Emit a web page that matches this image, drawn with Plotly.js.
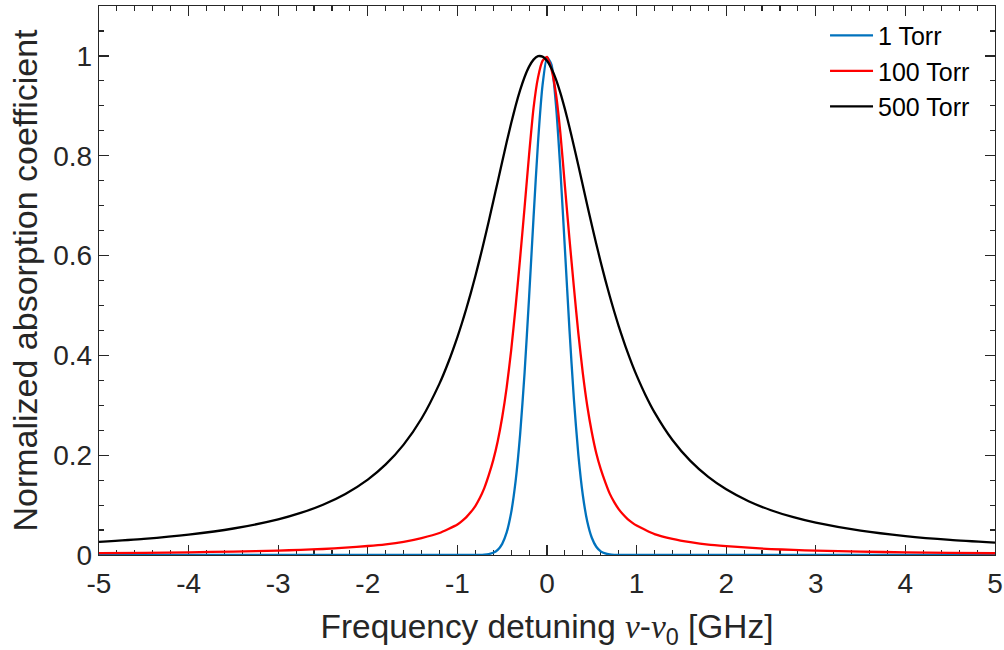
<!DOCTYPE html>
<html>
<head>
<meta charset="utf-8">
<script src="https://cdn.plot.ly/plotly-3.0.1.min.js"></script>
<style>html,body{margin:0;padding:0;background:#fff;}#chart{width:1004px;height:650px;}</style>
</head>
<body>
<div id="chart"></div>
<script>
var detuning = [-5,-4.5,-4,-3.5,-3,-2.75,-2.5,-2.25,-2,-1.8,-1.6,-1.4,-1.2,-1.1,
  -1,-0.95,-0.9,-0.85,-0.8,-0.75,-0.7,-0.65,-0.6,-0.55,-0.5,-0.45,-0.4,-0.35,-0.3,-0.25,-0.2,-0.15,-0.1,-0.05,
  0,0.05,0.1,0.15,0.2,0.25,0.3,0.35,0.4,0.45,0.5,0.55,0.6,0.65,0.7,0.75,0.8,0.85,0.9,0.95,1,
  1.1,1.2,1.4,1.6,1.8,2,2.25,2.5,2.75,3,3.5,4,4.5,5];

var torr1 = [0,0,0,0,0,0,0,0,0,0,0,0,0,0,
  0,0,0,0,0.0001,0.0002,0.0007,0.0018,0.0044,0.0103,0.0224,0.0452,0.0849,0.1484,0.2415,0.3657,0.516,0.677,0.8275,0.941,
  0.9968,0.9826,0.9017,0.770,0.6126,0.4535,0.3125,0.2005,0.1197,0.0665,0.0345,0.0166,0.0074,0.0031,0.0012,0.0004,0.0001,0,0,0,0,
  0,0,0,0,0,0,0,0,0,0,0,0,0,0];

var torr100 = [0.0036,0.0044,0.0054,0.0068,0.0088,0.0104,0.012,0.0148,0.018,0.0214,0.0265,0.034,0.044,0.052,
  0.061,0.068,0.076,0.086,0.098,0.114,0.134,0.160,0.190,0.228,0.276,0.336,0.410,0.498,0.595,0.697,0.802,0.896,0.957,0.990,
  0.998,0.973,0.924,0.844,0.739,0.635,0.537,0.444,0.364,0.298,0.246,0.204,0.172,0.146,0.123,0.106,0.092,0.081,0.072,0.065,0.059,
  0.050,0.042,0.0325,0.0258,0.0208,0.0178,0.0146,0.0119,0.0102,0.0087,0.0067,0.0053,0.0043,0.0035];

var torr500 = [0.0264,0.0325,0.0410,0.0531,0.0714,0.0843,0.1007,0.1223,0.1511,0.1815,0.2212,0.2735,0.3434,0.3867,
  0.4367,0.4643,0.4939,0.5253,0.5586,0.5938,0.6306,0.6688,0.7082,0.7481,0.7881,0.8273,0.8650,0.9000,0.9313,0.9578,0.9785,0.9926,0.9994,0.9986,
  0.9903,0.9749,0.9530,0.9254,0.8933,0.8577,0.8196,0.7802,0.7401,0.7002,0.6611,0.6231,0.5866,0.5518,0.5189,0.4878,0.4587,0.4314,0.4058,0.3821,0.360,
  0.3203,0.2859,0.2305,0.1886,0.1566,0.1317,0.1078,0.0897,0.0757,0.0647,0.0487,0.0379,0.0303,0.0248];

var seriesNames = ['1 Torr','100 Torr','500 Torr'];
var seriesColors = ['#0072BD','#FF0000','#000000'];

var xTickVals = [-5,-4,-3,-2,-1,0,1,2,3,4,5];
var xTickText = ['-5','-4','-3','-2','-1','0','1','2','3','4','5'];
var yTickVals = [0,0.2,0.4,0.6,0.8,1];
var yTickText = ['0','0.2','0.4','0.6','0.8','1'];

var ys = [torr1, torr100, torr500];
var traces = ys.map(function(y, i){
  return {x: detuning, y: y, type:'scatter', mode:'lines', name: seriesNames[i],
    line:{color: seriesColors[i], width:2.3, shape:'spline', smoothing:0.6}};
});

var axCol = '#262626';
var font = 'Liberation Sans, Arial, sans-serif';
var layout = {
  width:1004, height:650,
  paper_bgcolor:'#ffffff', plot_bgcolor:'#ffffff',
  margin:{l:99, r:9, t:6, b:95, pad:0},
  font:{family:font, color:axCol, size:28},
  showlegend:true,
  legend:{x:0.8103, y:0.988, xanchor:'left', yanchor:'top', bgcolor:'rgba(255,255,255,0)',
    font:{family:font, size:25, color:'#000'}, tracegroupgap:0, itemwidth:43},
  xaxis:{range:[-5,5], tickmode:'array', tickvals:xTickVals, ticktext:xTickText,
    ticks:'inside', ticklen:10, tickwidth:1.3, tickcolor:axCol,
    showline:true, linecolor:axCol, linewidth:1.3, mirror:'ticks', showgrid:false, zeroline:false,
    layer:'below traces', ticklabelstandoff:3,
    minor:{ticks:'inside', ticklen:5, tickwidth:1.1, tickcolor:axCol, dtick:0.2, showgrid:false},
    tickfont:{family:font, size:28, color:axCol},
    title:{text:'Frequency detuning <span style="font-family:Liberation Serif"><i>ν</i></span>-<span style="font-family:Liberation Serif"><i>ν</i></span><sub>0</sub> [GHz]', font:{family:font, size:33.4, color:axCol}, standoff:20}},
  yaxis:{range:[0,1.1], tickmode:'array', tickvals:yTickVals, ticktext:yTickText,
    ticks:'inside', ticklen:10, tickwidth:1.3, tickcolor:axCol,
    showline:true, linecolor:axCol, linewidth:1.3, mirror:'ticks', showgrid:false, zeroline:false,
    layer:'below traces',
    minor:{ticks:'inside', ticklen:5, tickwidth:1.1, tickcolor:axCol, dtick:0.05, showgrid:false},
    tickfont:{family:font, size:28, color:axCol},
    title:{text:'Normalized absorption coefficient', font:{family:font, size:34, color:axCol}, standoff:5}}
};

Plotly.newPlot('chart', traces, layout, {displayModeBar:false, staticPlot:true});
</script>
</body>
</html>
